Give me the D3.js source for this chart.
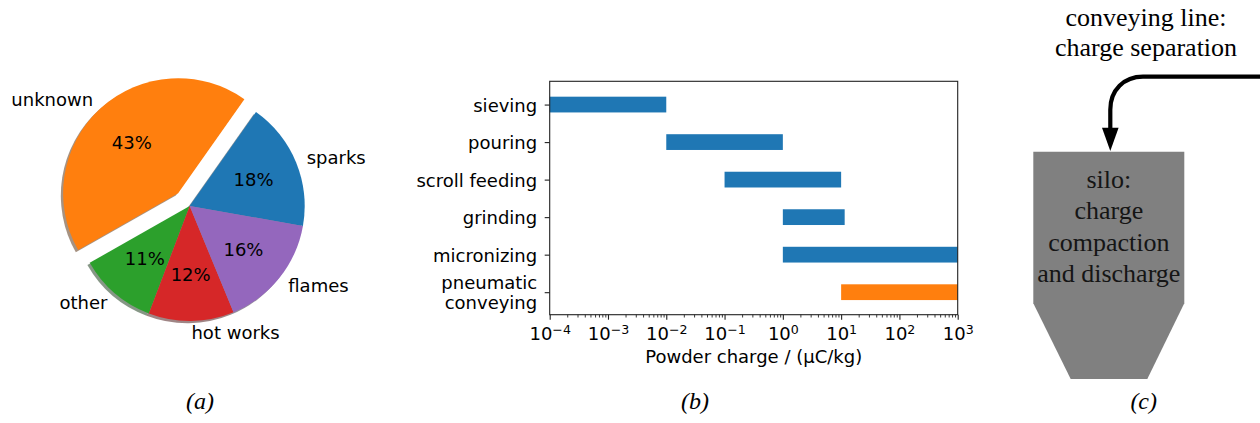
<!DOCTYPE html>
<html>
<head>
<meta charset="utf-8">
<script src="https://cdn.jsdelivr.net/npm/d3@7"></script>
<style>
  html, body { margin: 0; padding: 0; background: #fff; }
  svg { display: block; }
</style>
</head>
<body>
<svg id="chart" width="1260" height="423"></svg>
<script>
// ---------- data ----------
const pieLabels = ["sparks", "unknown", "other", "hot works", "flames"];
const pieValues = [18, 43, 11, 12, 16];
const pieExplode = [0, 0.15, 0, 0, 0];
const pieColors = ["#1f77b4", "#ff7f0e", "#2ca02c", "#d62728", "#9467bd"];

const processes = ["sieving", "pouring", "scroll feeding", "grinding", "micronizing", "pneumatic\nconveying"];
const chargeLow = [1e-4, 1e-2, 1e-1, 1, 1, 10];
const chargeHigh = [1e-2, 1, 10, 11.5, 1000, 1000];
const barColors = ["#1f77b4", "#1f77b4", "#1f77b4", "#1f77b4", "#1f77b4", "#ff7f0e"];
const xTickExponents = [-4, -3, -2, -1, 0, 1, 2, 3];
const xAxisTitle = "Powder charge / (\u03bcC/kg)";

const conveyLines = ["conveying line:", "charge separation"];
const siloLines = ["silo:", "charge", "compaction", "and discharge"];
const panelLabels = ["(a)", "(b)", "(c)"];

// ---------- setup ----------
const svg = d3.select("#chart");
const sans = "'DejaVu Sans', sans-serif";
const serif = "'Liberation Serif', 'Times New Roman', serif";

// ---------- (a) pie ----------
(function () {
  const cx = 189.7, cy = 206, R = 115;
  const startMpl = -10; // degrees, counter-clockwise from 3 o'clock
  const a0 = (90 - startMpl) * Math.PI / 180;
  const pie = d3.pie().sort(null).value(d => d).startAngle(a0).endAngle(a0 - 2 * Math.PI);
  const arcs = pie(pieValues);
  const arc = d3.arc().innerRadius(0).outerRadius(R);
  const g = svg.append("g").attr("transform", `translate(${cx},${cy})`);

  function offset(d, i, f) {
    const m = (d.startAngle + d.endAngle) / 2;
    return [Math.sin(m) * R * f, -Math.cos(m) * R * f];
  }
  // shadows
  g.selectAll("path.shadow").data(arcs).join("path")
    .attr("class", "shadow")
    .attr("d", arc)
    .attr("transform", (d, i) => {
      const [ox, oy] = offset(d, i, pieExplode[i]);
      return `translate(${ox - 0.02 * R},${oy + 0.02 * R})`;
    })
    .attr("fill", (d, i) => {
      const c = d3.rgb(pieColors[i]);
      return d3.rgb(c.r * 0.3, c.g * 0.3, c.b * 0.3).toString();
    })
    .attr("fill-opacity", 0.5);
  // wedges
  g.selectAll("path.wedge").data(arcs).join("path")
    .attr("class", "wedge")
    .attr("d", arc)
    .attr("transform", (d, i) => {
      const [ox, oy] = offset(d, i, pieExplode[i]);
      return `translate(${ox},${oy})`;
    })
    .attr("fill", (d, i) => pieColors[i]);
  // labels
  g.selectAll("text.lab").data(arcs).join("text")
    .attr("class", "lab")
    .each(function (d, i) {
      const [ox, oy] = offset(d, i, pieExplode[i]);
      const [lx, ly] = offset(d, i, 1.1);
      d3.select(this)
        .attr("x", ox + lx).attr("y", oy + ly).attr("dy", "0.36em")
        .attr("text-anchor", (ox + lx) > 0 ? "start" : "end");
    })
    .attr("font-family", sans).attr("font-size", 18).attr("fill", "#000")
    .text((d, i) => pieLabels[i]);
  g.selectAll("text.pct").data(arcs).join("text")
    .attr("class", "pct")
    .each(function (d, i) {
      const [ox, oy] = offset(d, i, pieExplode[i]);
      const [lx, ly] = offset(d, i, 0.6);
      d3.select(this).attr("x", ox + lx).attr("y", oy + ly).attr("dy", "0.36em");
    })
    .attr("text-anchor", "middle")
    .attr("font-family", sans).attr("font-size", 18).attr("fill", "#000")
    .text((d, i) => Math.round(pieValues[i] / d3.sum(pieValues) * 100) + "%");
})();

// ---------- (b) range bars ----------
(function () {
  const left = 549.7, right = 957.7, top = 81.3, bottom = 314.7;
  const x = d3.scaleLog().domain([1e-4, 1e3]).range([left, right]);
  const y = d3.scaleLinear().domain([-0.62, 5.6]).range([top, bottom]);
  const bh = 0.42;
  const g = svg.append("g");

  g.selectAll("rect.bar").data(processes).join("rect")
    .attr("class", "bar")
    .attr("x", (d, i) => x(chargeLow[i]))
    .attr("width", (d, i) => x(chargeHigh[i]) - x(chargeLow[i]))
    .attr("y", (d, i) => y(i - bh / 2))
    .attr("height", (d, i) => y(i + bh / 2) - y(i - bh / 2))
    .attr("fill", (d, i) => barColors[i]);

  // frame
  g.append("rect")
    .attr("x", left).attr("y", top)
    .attr("width", right - left).attr("height", bottom - top)
    .attr("fill", "none").attr("stroke", "#222").attr("stroke-width", 1.1);

  // x axis major ticks
  const majors = xTickExponents.map(e => Math.pow(10, e));
  const xAxis = d3.axisBottom(x).tickValues(majors).tickSize(5).tickSizeOuter(0).tickFormat(() => "");
  const xg = g.append("g").attr("transform", `translate(0,${bottom})`).call(xAxis);
  xg.select(".domain").remove();
  xg.selectAll(".tick line").attr("stroke", "#222").attr("stroke-width", 1.1);
  xg.selectAll(".tick text").remove();
  xg.selectAll(".tick").each(function (d, i) {
    const t = d3.select(this).append("text")
      .attr("y", 25.5).attr("text-anchor", "middle")
      .attr("font-family", sans).attr("font-size", 18).attr("fill", "#000");
    t.append("tspan").text("10");
    const e = xTickExponents[i];
    t.append("tspan").attr("dy", -6.5).attr("font-size", 12.6)
      .text((e < 0 ? "\u2212" : "") + Math.abs(e));
  });
  // minor ticks
  const minors = [];
  for (let e = -4; e < 3; e++) for (let k = 2; k <= 9; k++) minors.push(k * Math.pow(10, e));
  const xMinor = d3.axisBottom(x).tickValues(minors).tickSize(2.8).tickSizeOuter(0).tickFormat(() => "");
  const xm = g.append("g").attr("transform", `translate(0,${bottom})`).call(xMinor);
  xm.select(".domain").remove();
  xm.selectAll(".tick line").attr("stroke", "#222").attr("stroke-width", 0.9);

  // y axis
  const yAxis = d3.axisLeft(y).tickValues(d3.range(processes.length)).tickSize(5).tickSizeOuter(0).tickFormat(() => "");
  const yg = g.append("g").attr("transform", `translate(${left},0)`).call(yAxis);
  yg.select(".domain").remove();
  yg.selectAll(".tick line").attr("stroke", "#222").attr("stroke-width", 1.1);
  yg.selectAll(".tick text").remove();
  yg.selectAll(".tick").each(function (d, i) {
    const lines = processes[i].split("\n");
    const lh = 20;
    const t = d3.select(this).append("text")
      .attr("text-anchor", "end")
      .attr("font-family", sans).attr("font-size", 18).attr("fill", "#000");
    lines.forEach((ln, j) => {
      t.append("tspan").attr("x", -12.5)
        .attr("y", (j - (lines.length - 1) / 2) * lh)
        .attr("dy", "0.36em").text(ln);
    });
  });

  // axis title
  g.append("text")
    .attr("x", (left + right) / 2).attr("y", 363)
    .attr("text-anchor", "middle")
    .attr("font-family", sans).attr("font-size", 18).attr("fill", "#000")
    .text(xAxisTitle);
})();

// ---------- (c) silo diagram ----------
(function () {
  const g = svg.append("g");
  // silo body
  g.append("path")
    .attr("d", "M1033.3,151.7 L1184.3,151.7 L1184.3,303.3 L1147.3,379 L1070.7,379 L1033.3,303.3 Z")
    .attr("fill", "#808080");
  // arrow
  g.append("path")
    .attr("d", "M1265,76.7 L1143,76.7 C1124,76.7 1110.3,90 1110.3,109.7 L1110.3,129")
    .attr("fill", "none").attr("stroke", "#000").attr("stroke-width", 4.2);
  g.append("path")
    .attr("d", "M1102,127.7 L1118.6,127.7 L1110.3,151 Z")
    .attr("fill", "#000");
  // texts
  g.selectAll("text.conv").data(conveyLines).join("text")
    .attr("class", "conv")
    .attr("x", 1146).attr("y", (d, i) => 26 + i * 30.3)
    .attr("text-anchor", "middle")
    .attr("font-family", serif).attr("font-size", 26).attr("fill", "#000")
    .text(d => d);
  g.selectAll("text.silo").data(siloLines).join("text")
    .attr("class", "silo")
    .attr("x", 1108.8).attr("y", (d, i) => 188.3 + i * 31.1)
    .attr("text-anchor", "middle")
    .attr("font-family", serif).attr("font-size", 26).attr("fill", "#151515")
    .text(d => d);
})();

// ---------- panel labels ----------
const panelX = [200, 695, 1143.7];
svg.selectAll("text.panel").data(panelLabels).join("text")
  .attr("class", "panel")
  .attr("x", (d, i) => panelX[i]).attr("y", 409)
  .attr("text-anchor", "middle")
  .attr("font-family", serif).attr("font-style", "italic").attr("font-size", 24).attr("fill", "#000")
  .text(d => d);
</script>
</body>
</html>
